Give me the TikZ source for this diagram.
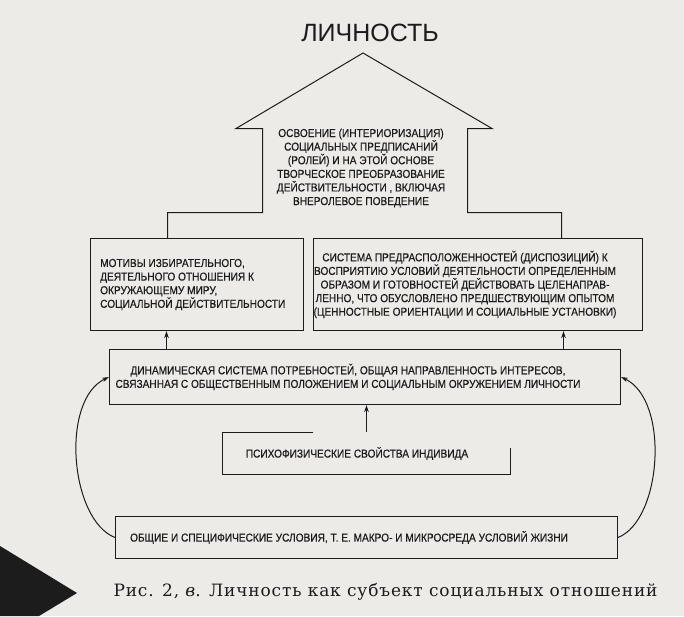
\documentclass[tikz,border=0pt]{standalone}
\usepackage{fontspec}
\setmainfont{DejaVu Serif}
\newfontfamily\boxfont[FakeStretch=0.88, FakeBold=0.4]{Liberation Sans}
\newfontfamily\titlefont{Liberation Sans}
\newfontfamily\capfont[LetterSpace=5]{DejaVu Serif}
\usetikzlibrary{arrows.meta, positioning, calc}

\definecolor{paper}{RGB}{236,235,231}
\definecolor{ink}{RGB}{28,28,28}

\begin{document}
\begin{tikzpicture}[x=1pt, y=-1pt,
  frame/.style={draw=ink, line width=1pt, inner sep=0pt},
  txt/.style={inner sep=0pt, align=center, text=ink, font=\boxfont\fontsize{11.5}{13.6}\selectfont},
  arr/.style={draw=ink, line width=1pt, -{Stealth[length=7pt, width=4.5pt]}}]

% Paper
\useasboundingbox[fill=paper] (0,0) rectangle (684,616);

% Title
\node[font=\titlefont\fontsize{25}{29}\selectfont, text=ink] (title) at (370,33) {ЛИЧНОСТЬ};

% House arrow
\draw[ink, line width=1pt] (167.5,238.5) -- (167.5,212.5) -- (262.5,212.5) -- (262.5,128.5) -- (236,128.5)
  -- (363,53) -- (492,128.5) -- (467.5,128.5) -- (467.5,212.5) -- (561.5,212.5) -- (561.5,238.5);
\node[txt] (roof) at (361,168) {ОСВОЕНИЕ (ИНТЕРИОРИЗАЦИЯ)\\ СОЦИАЛЬНЫХ ПРЕДПИСАНИЙ\\
  (РОЛЕЙ) И НА ЭТОЙ ОСНОВЕ\\ ТВОРЧЕСКОЕ ПРЕОБРАЗОВАНИЕ\\ ДЕЙСТВИТЕЛЬНОСТИ , ВКЛЮЧАЯ\\ ВНЕРОЛЕВОЕ ПОВЕДЕНИЕ};

% Boxes
\node[frame, minimum width=213, minimum height=92] (motives) at (197,284.5) {};
\node[txt, align=left, anchor=west] (motivestext) at (100,284.5)
  {МОТИВЫ ИЗБИРАТЕЛЬНОГО,\\ ДЕЯТЕЛЬНОГО ОТНОШЕНИЯ К\\ ОКРУЖАЮЩЕМУ МИРУ,\\ СОЦИАЛЬНОЙ ДЕЙСТВИТЕЛЬНОСТИ};

\node[frame, minimum width=329, minimum height=92] (disp) at (478,284.5) {};
\node[txt] (disptext) at (465,284.5)
  {СИСТЕМА ПРЕДРАСПОЛОЖЕННОСТЕЙ (ДИСПОЗИЦИЙ) К\\ ВОСПРИЯТИЮ УСЛОВИЙ ДЕЯТЕЛЬНОСТИ ОПРЕДЕЛЕННЫМ\\
   ОБРАЗОМ И ГОТОВНОСТЕЙ ДЕЙСТВОВАТЬ ЦЕЛЕНАПРАВ-\\ ЛЕННО, ЧТО ОБУСЛОВЛЕНО ПРЕДШЕСТВУЮЩИМ ОПЫТОМ\\
   (ЦЕННОСТНЫЕ ОРИЕНТАЦИИ И СОЦИАЛЬНЫЕ УСТАНОВКИ)};

\node[frame, minimum width=511, minimum height=55] (needs) at (365,377) {};
\node[txt] (needstext) at (348,377)
  {ДИНАМИЧЕСКАЯ СИСТЕМА ПОТРЕБНОСТЕЙ, ОБЩАЯ НАПРАВЛЕННОСТЬ ИНТЕРЕСОВ,\\
   СВЯЗАННАЯ С ОБЩЕСТВЕННЫМ ПОЛОЖЕНИЕМ И СОЦИАЛЬНЫМ ОКРУЖЕНИЕМ ЛИЧНОСТИ};

\node[inner sep=0pt, minimum width=288, minimum height=42] (psycho) at (366.5,453.5) {};
\draw[ink, line width=1pt] ([xshift=91pt]psycho.north west) -- (psycho.north west) -- (psycho.south west)
  -- (psycho.south east) -- ([yshift=-16pt]psycho.north east);
\node[txt] (psychotext) at (357,453.5) {ПСИХОФИЗИЧЕСКИЕ СВОЙСТВА ИНДИВИДА};

\node[frame, minimum width=502, minimum height=42] (cond) at (366.5,537.5) {};
\node[txt] (condtext) at (349,537.5)
  {ОБЩИЕ И СПЕЦИФИЧЕСКИЕ УСЛОВИЯ, Т. Е. МАКРО- И МИКРОСРЕДА УСЛОВИЙ ЖИЗНИ};

% Arrows
\coordinate (la) at (166.5,0);
\coordinate (ra) at (563.5,0);
\draw[arr] (needs.north -| la) -- (motives.south -| la);
\draw[arr] (needs.north -| ra) -- (disp.south -| ra);
\draw[arr] (psycho.north) -- (needs.south -| psycho.north);
\draw[arr] (cond.west) .. controls (70,520) and (60,400) .. (needs.west);
\draw[arr] (cond.east) .. controls (662,520) and (670,400) .. (needs.east);

% Caption
\fill[ink] (0,546) -- (77,593) -- (39,616) -- (0,616) -- cycle;
\node[font=\capfont\fontsize{17}{20}\selectfont, text=ink, anchor=west] (caption) at (110,592)
  {Рис. 2, \textit{в}. Личность как субъект социальных отношений};

\end{tikzpicture}
\end{document}
